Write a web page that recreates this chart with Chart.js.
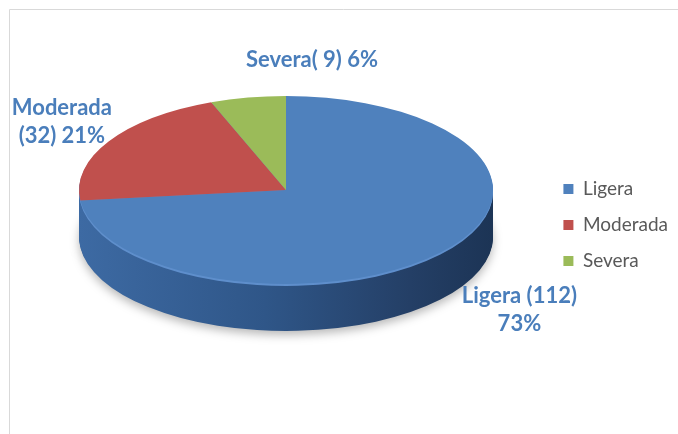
<!DOCTYPE html>
<html><head><meta charset="utf-8">
<script src="https://cdn.jsdelivr.net/npm/chart.js@4.4.1/dist/chart.umd.min.js"></script>
<style>html,body{margin:0;padding:0;background:#fff;overflow:hidden;}#wrap{width:678px;height:434px;}</style>
</head><body><div id="wrap"><canvas id="c" width="678" height="434"></canvas></div>
<script>
// ---- data ----
const categories = ['Ligera', 'Moderada', 'Severa'];
const counts = [112, 32, 9];
const sliceLabels = [['Ligera (112)', '73%'], ['Moderada', '(32) 21%'], ['Severa( 9) 6%']];
const topColors = ['#4F81BD', '#C0504D', '#9BBB59'];

// ---- look (positions/styles) ----
const look = {
  cx: 286, cy: 190, rx: 207, ry: 94, depth: 47,
  labelOffsets: [[79, 57], [-47, -19], [64, -38]],
  labelColor: '#4A7EBB', labelFont: 'bold 22px Lato', labelLine: 28,
  rimColor: '#5f8fcc'
};

Chart.defaults.font.family = 'Lato';

const pie3d = {
  id: 'pie3d',
  beforeDraw(chart) {
    const ctx = chart.ctx;
    ctx.save();
    ctx.strokeStyle = '#d9d9d9';
    ctx.lineWidth = 1;
    ctx.beginPath();
    ctx.moveTo(9.5, 434);
    ctx.lineTo(9.5, 9.5);
    ctx.lineTo(678, 9.5);
    ctx.stroke();
    ctx.restore();
  },
  beforeDatasetsDraw(chart) {
    const ctx = chart.ctx;
    const arcs = chart.getDatasetMeta(0).data;
    if (!arcs.length) return;
    const a0 = arcs[0];
    const r = a0.outerRadius;
    const setT = (dy) => {
      ctx.translate(look.cx, look.cy + dy);
      ctx.scale(look.rx / r, look.ry / r);
      ctx.translate(-a0.x, -a0.y);
    };
    const grad = ctx.createLinearGradient(a0.x - r, 0, a0.x + r, 0);
    grad.addColorStop(0, '#3d6aa3');
    grad.addColorStop(0.45, '#2f5688');
    grad.addColorStop(0.8, '#243f66');
    grad.addColorStop(1, '#1c3455');
    for (let d = look.depth; d >= 1; d--) {
      ctx.save();
      setT(d);
      if (d === look.depth) {
        ctx.shadowColor = 'rgba(0,0,0,0.28)';
        ctx.shadowBlur = 10;
        ctx.shadowOffsetY = 4;
      }
      const fill = d <= 2 ? look.rimColor : grad;
      arcs.forEach(arc => {
        const orig = arc.options;
        arc.options = Object.assign({}, orig, { backgroundColor: fill, borderWidth: 0 });
        arc.draw(ctx);
        arc.options = orig;
      });
      ctx.restore();
    }
    ctx.save();
    setT(0);
  },
  afterDatasetsDraw(chart) {
    const ctx = chart.ctx;
    const arcs = chart.getDatasetMeta(0).data;
    if (!arcs.length) return;
    ctx.restore();
    ctx.save();
    ctx.fillStyle = look.labelColor;
    ctx.font = look.labelFont;
    ctx.textAlign = 'center';
    ctx.textBaseline = 'middle';
    arcs.forEach((arc, i) => {
      const mid = (arc.startAngle + arc.endAngle) / 2;
      const px = look.cx + look.rx * Math.cos(mid) + look.labelOffsets[i][0];
      const py = look.cy + look.ry * Math.sin(mid) + look.labelOffsets[i][1];
      const lines = sliceLabels[i];
      const y0 = py - (lines.length - 1) * look.labelLine / 2;
      lines.forEach((t, k) => ctx.fillText(t, px, y0 + k * look.labelLine));
    });
    ctx.restore();
  }
};

new Chart(document.getElementById('c'), {
  type: 'pie',
  data: {
    labels: categories,
    datasets: [{ data: counts, backgroundColor: topColors, borderWidth: 0, clip: false, hoverOffset: 0 }]
  },
  options: {
    responsive: false,
    animation: false,
    events: [],
    layout: { padding: { top: 26, bottom: 10, left: 10, right: 0 } },
    plugins: {
      legend: {
        position: 'right',
        labels: { boxWidth: 10, boxHeight: 10, padding: 17, color: '#595959', font: { family: 'Lato', size: 19 } }
      },
      tooltip: { enabled: false }
    }
  },
  plugins: [pie3d]
});
</script>
</body></html>
